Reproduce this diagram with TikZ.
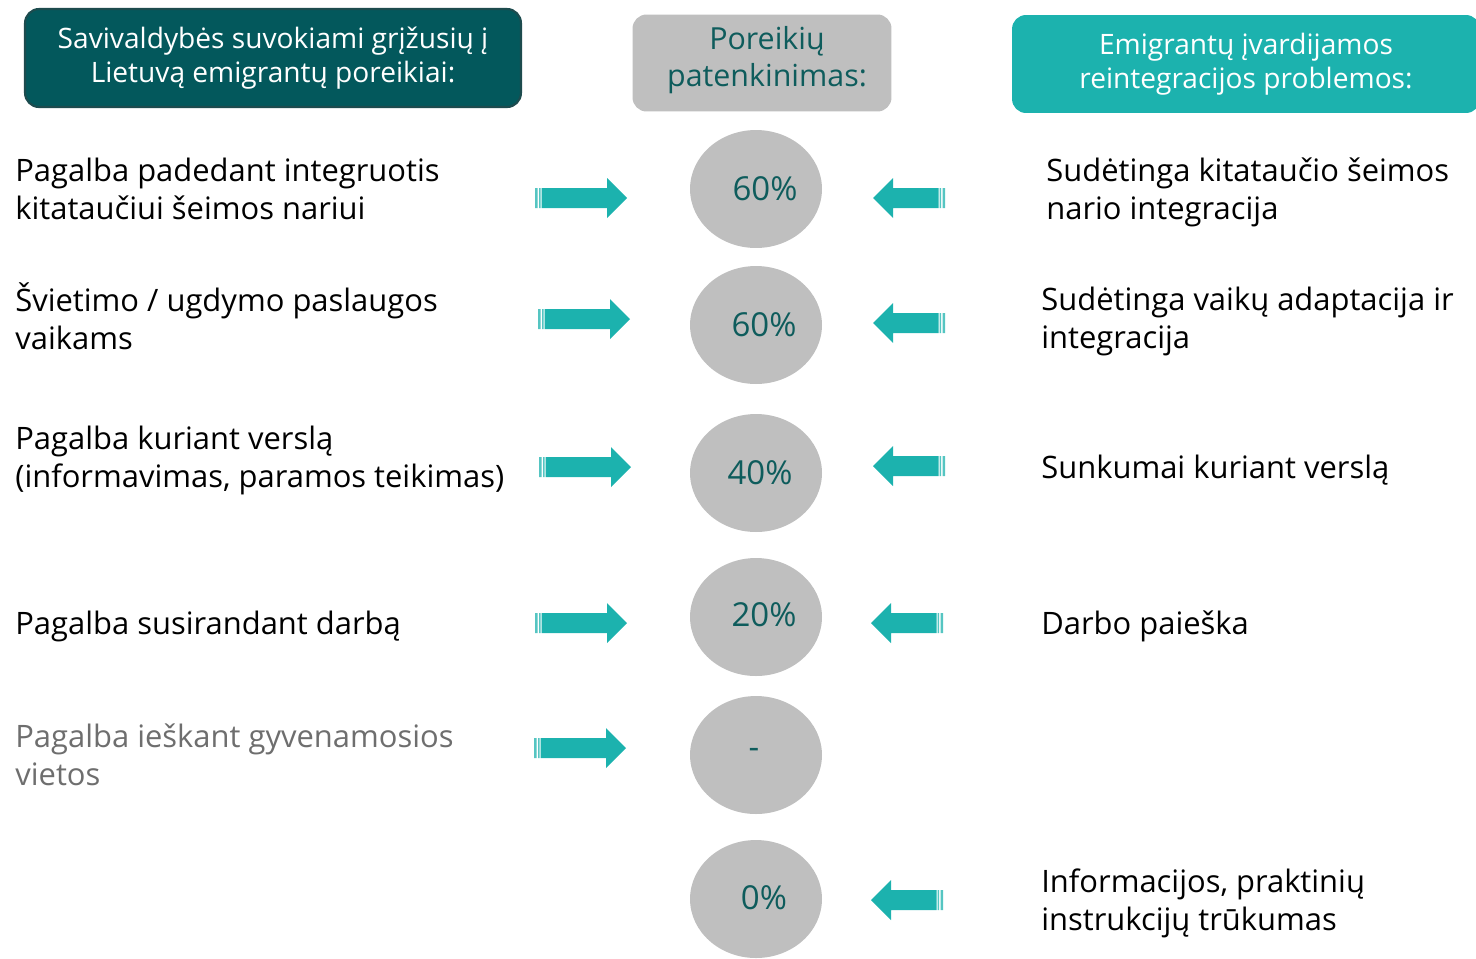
\documentclass[tikz,border=0pt]{standalone}
\usepackage{fontspec}
\setmainfont{Open Sans}
\usetikzlibrary{positioning, shapes.geometric}
\definecolor{darkteal}{HTML}{03585C}
\definecolor{darkedge}{HTML}{1D4B4E}
\definecolor{lightteal}{HTML}{1CB2AE}
\definecolor{softgray}{HTML}{BFBFBF}
\definecolor{pctext}{HTML}{0E5C5C}
\definecolor{mutedtext}{HTML}{6E6E6E}
\newcommand{\bodysize}{\fontsize{17.6}{21.6}\selectfont}
\newcommand{\headsize}{\fontsize{16}{19.4}\selectfont}
\newcommand{\satsize}{\fontsize{17.3}{21}\selectfont}
\newcommand{\pctsize}{\fontsize{18.8}{21}\selectfont}
\tikzstyle{needhead}=[rectangle, rounded corners=0.28cm, fill=darkteal, draw=darkedge, line width=1.2pt, minimum width=9.92cm, minimum height=1.96cm, align=center, text=white, font=\headsize]
\tikzstyle{scorehead}=[rectangle, rounded corners=0.28cm, fill=softgray, minimum width=5.18cm, minimum height=1.94cm]
\tikzstyle{problemhead}=[rectangle, rounded corners=0.28cm, fill=lightteal, minimum width=9.36cm, minimum height=1.96cm, align=center, text=white, font=\headsize]
\tikzstyle{needtext}=[anchor=west, align=left, inner sep=0pt, font=\bodysize]
\tikzstyle{score}=[ellipse, fill=softgray, minimum width=2.64cm, minimum height=2.36cm]
\tikzstyle{scoretext}=[text=pctext, font=\pctsize]
\tikzset{
  pics/stripearrow/.style={code={
    \fill[lightteal] (6.5,-10) -- (#1-20,-10) -- (#1-20,-20) -- (#1,0) -- (#1-20,20) -- (#1-20,10) -- (6.5,10) -- cycle;
    \fill[lightteal!75] (0,-10) rectangle (2.5,10) (4,-10) rectangle (5.5,10);
  }}
}

\begin{document}
\begin{tikzpicture}[x=0.02cm, y=-0.02cm]
  \useasboundingbox (0,0) rectangle (1476,958);
  \clip (0,0) rectangle (1476,958);

  % headers
  \node[needhead] (needs) at (273,58) {Savivaldybės suvokiami grįžusių į\\Lietuvą emigrantų poreikiai:};
  \node[scorehead] (sat) at (762,63) {};
  \node[text=pctext, font=\satsize, align=center] (satlabel) at (767,60) {Poreikių\\patenkinimas:};
  \node[problemhead] (problems) at (1246,64) {Emigrantų įvardijamos\\reintegracijos problemos:};

  % satisfaction circles
  \node[score] (c1) at (756,189) {};
  \node[score] (c2) at (756,325) {};
  \node[score] (c3) at (756,473) {};
  \node[score] (c4) at (756,617) {};
  \node[score] (c5) at (756,755) {};
  \node[score] (c6) at (756,899) {};
  \node[scoretext] (v1) at (765,189) {60\%};
  \node[scoretext] (v2) at (764,325) {60\%};
  \node[scoretext] (v3) at (760,473) {40\%};
  \node[scoretext] (v4) at (764,615) {20\%};
  \node[scoretext] (v5) at (754,753) {-};
  \node[scoretext] (v6) at (764,898) {0\%};

  % needs seen by the municipality
  \node[needtext] (n1) at (15,189) {Pagalba padedant integruotis\\kitataučiui šeimos nariui};
  \node[needtext] (n2) at (15,316) {Švietimo / ugdymo paslaugos\\vaikams};
  \node[needtext] (n3) at (15,460) {Pagalba kuriant verslą\\(informavimas, paramos teikimas)};
  \node[needtext] (n4) at (15,626) {Pagalba susirandant darbą};
  \node[needtext, text=mutedtext] (n5) at (15,755) {Pagalba ieškant gyvenamosios\\vietos};

  % problems named by emigrants
  \node[needtext] (p1) at (1046,192) {Sudėtinga kitataučio šeimos\\nario integracija};
  \node[needtext] (p2) at (1041,321) {Sudėtinga vaikų adaptacija ir\\integracija};
  \node[needtext] (p3) at (1041,470) {Sunkumai kuriant verslą};
  \node[needtext] (p4) at (1041,626) {Darbo paieška};
  \node[needtext] (p6) at (1041,903) {Informacijos, praktinių\\instrukcijų trūkumas};

  % arrows
  \pic (ra1) at (535,198) {stripearrow=92};
  \pic (ra2) at (538,319) {stripearrow=92};
  \pic (ra3) at (539,467) {stripearrow=92};
  \pic (ra4) at (535,623) {stripearrow=92};
  \pic (ra5) at (534,748) {stripearrow=92};
  \pic[xscale=-1] (la1) at (945,198) {stripearrow=72};
  \pic[xscale=-1] (la2) at (945,323) {stripearrow=72};
  \pic[xscale=-1] (la3) at (945,466) {stripearrow=72};
  \pic[xscale=-1] (la4) at (943,623) {stripearrow=72};
  \pic[xscale=-1] (la6) at (943,900) {stripearrow=72};
\end{tikzpicture}
\end{document}
